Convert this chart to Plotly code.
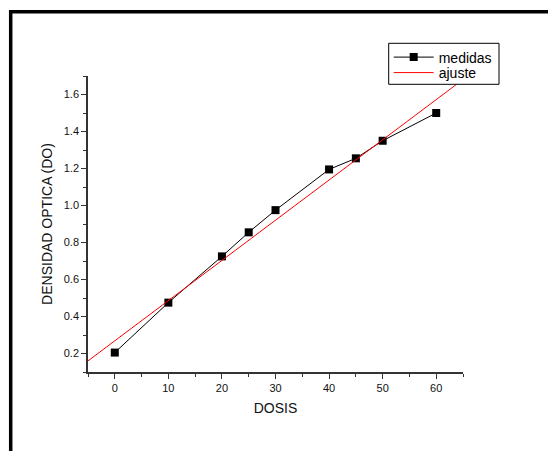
import plotly.graph_objects as go

dosis = [0, 10, 20, 25, 30, 40, 45, 50, 60]
densidad = [0.205, 0.475, 0.725, 0.855, 0.975, 1.195, 1.255, 1.35, 1.5]
ajuste_x = [-5, 65]
ajuste_y = [0.160, 1.681]

OFF = 8  # default page body margin
W, H = 556 - OFF, 451 - OFF
L, T = 88 - OFF, 76 - OFF
pw, ph = 375, 296
R, B = W - L - pw, H - T - ph


def px_x(x):
    return (x - 88) / pw


def px_y(y):
    return (372 - y) / ph


fig = go.Figure()
fig.add_trace(go.Scatter(x=dosis, y=densidad, mode="lines+markers", name="medidas",
                         line=dict(color="black", width=1),
                         marker=dict(symbol="square", size=8, color="black"),
                         legend="legend"))
fig.add_trace(go.Scatter(x=ajuste_x, y=ajuste_y, mode="lines", name="ajuste",
                         line=dict(color="red", width=1), legend="legend2"))

font = dict(family="Liberation Sans, Arial, sans-serif", color="#111")
leg_common = dict(xanchor="left", yanchor="top", borderwidth=0, bgcolor="rgba(0,0,0,0)",
                  font=dict(size=14, family=font["family"], color="black"), itemwidth=40)
fig.update_layout(
    width=W, height=H, margin=dict(l=L, r=R, t=T, b=B, autoexpand=False),
    paper_bgcolor="white", plot_bgcolor="white",
    font=font, showlegend=True,
    legend=dict(x=px_x(388.7), y=px_y(41.5), **leg_common),
    legend2=dict(x=px_x(388.7), y=px_y(57), **leg_common),
    xaxis=dict(range=[-5, 65], tickvals=[0, 10, 20, 30, 40, 50, 60], showgrid=False, zeroline=False,
               showline=True, linecolor="#333", linewidth=1.5, ticks="outside", ticklen=5,
               tickcolor="#333", tickfont=dict(size=11),
               minor=dict(tickvals=[-5, 5, 15, 25, 35, 45, 55, 65], ticks="outside", ticklen=3, tickcolor="#333"),
               title=dict(text="DOSIS", font=dict(size=14), standoff=10)),
    yaxis=dict(range=[0.1, 1.7], tickvals=[0.2, 0.4, 0.6, 0.8, 1.0, 1.2, 1.4, 1.6], tickformat=".1f",
               showgrid=False, zeroline=False,
               showline=True, linecolor="#333", linewidth=1.5, ticks="outside", ticklen=5,
               tickcolor="#333", tickfont=dict(size=11),
               minor=dict(tickvals=[0.1, 0.3, 0.5, 0.7, 0.9, 1.1, 1.3, 1.5, 1.7], ticks="outside", ticklen=3, tickcolor="#333"),
               title=dict(text="DENSIDAD OPTICA (DO)", font=dict(size=14), standoff=8)),
)

# outer frame
fig.add_shape(type="rect", xref="paper", yref="paper",
              x0=px_x(10.7), x1=2, y0=-1, y1=px_y(11.7),
              line=dict(color="black", width=3.5), fillcolor="rgba(0,0,0,0)", layer="below")
# legend box
fig.add_shape(type="rect", xref="paper", yref="paper",
              x0=px_x(388.7), x1=px_x(499), y0=px_y(84.3), y1=px_y(43.3),
              line=dict(color="black", width=1), fillcolor="white", layer="above")

fig.write_html("out.html")
